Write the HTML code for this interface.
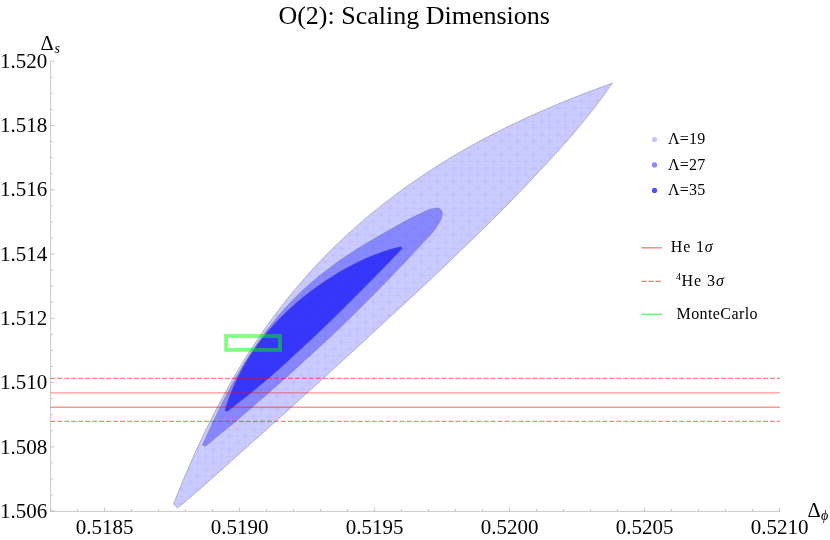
<!DOCTYPE html>
<html>
<head>
<meta charset="utf-8">
<title>O(2): Scaling Dimensions</title>
<style>
html, body { margin: 0; padding: 0; background: #ffffff; }
body { width: 830px; height: 540px; overflow: hidden; font-family: "Liberation Serif", serif; }
svg { display: block; will-change: transform; }
text { font-family: "Liberation Serif", serif; fill: #000; }
.tk { font-size: 21px; }
.lg { font-size: 16px; }
.ttl { font-size: 26px; }
.it { font-style: italic; }
</style>
</head>
<body>
<svg width="830" height="540" viewBox="0 0 830 540">
<rect x="0" y="0" width="830" height="540" fill="#ffffff"/>
<defs>
<pattern id="mesh" x="13.2" y="0.3" width="16" height="13.4" patternUnits="userSpaceOnUse">
<path d="M0 0L16 13.4M16 0L0 13.4M0 0.3H16M0 7H16M0.3 0V13.4M8.3 0V13.4" stroke="#0000ff" stroke-width="0.6" fill="none" opacity="0.065"/>
</pattern>
</defs>

<!-- title -->
<text x="414.2" y="24.2" text-anchor="middle" class="ttl">O(2): Scaling Dimensions</text>

<!-- islands -->
<path d="M173.50 504.00 C174.56 501.36 177.72 493.41 179.88 488.16 C182.04 482.91 184.22 477.69 186.44 472.50 C188.66 467.32 190.91 462.17 193.20 457.05 C195.49 451.94 197.81 446.86 200.17 441.82 C202.53 436.78 204.92 431.78 207.36 426.82 C209.79 421.85 212.26 416.93 214.77 412.05 C217.28 407.16 219.83 402.32 222.43 397.52 C225.02 392.72 227.65 387.97 230.33 383.26 C233.00 378.55 235.72 373.88 238.49 369.26 C241.25 364.64 244.06 360.06 246.92 355.54 C249.78 351.02 252.68 346.54 255.63 342.12 C258.59 337.69 261.59 333.32 264.64 328.99 C267.69 324.67 270.78 320.39 273.93 316.16 C277.07 311.94 280.26 307.76 283.50 303.63 C286.74 299.50 290.03 295.42 293.36 291.39 C296.70 287.36 300.08 283.38 303.51 279.45 C306.94 275.52 310.42 271.64 313.95 267.81 C317.48 263.99 321.06 260.21 324.69 256.49 C328.32 252.77 332.01 249.10 335.74 245.48 C339.47 241.86 343.26 238.30 347.09 234.79 C350.92 231.27 354.80 227.80 358.73 224.38 C362.65 220.96 366.62 217.59 370.63 214.27 C374.65 210.94 378.71 207.66 382.81 204.43 C386.92 201.20 391.07 198.02 395.27 194.88 C399.47 191.75 403.71 188.66 408.00 185.62 C412.29 182.58 416.62 179.58 421.00 176.63 C425.37 173.68 429.79 170.77 434.25 167.90 C438.72 165.04 443.22 162.22 447.77 159.45 C452.31 156.68 456.91 153.95 461.54 151.26 C466.17 148.58 470.85 145.94 475.57 143.35 C480.30 140.75 485.06 138.21 489.87 135.70 C494.68 133.20 499.53 130.74 504.42 128.32 C509.31 125.90 514.25 123.53 519.22 121.20 C524.19 118.86 529.20 116.57 534.25 114.31 C539.30 112.06 544.38 109.84 549.50 107.66 C554.62 105.47 559.77 103.33 564.96 101.22 C570.15 99.10 575.37 97.03 580.62 94.98 C585.87 92.94 591.16 90.93 596.47 88.95 C601.79 86.97 609.83 84.08 612.50 83.10 L612.39 82.99 C610.87 85.15 606.36 91.70 603.25 95.97 C600.14 100.23 596.97 104.43 593.75 108.58 C590.54 112.73 587.26 116.82 583.94 120.87 C580.63 124.92 577.27 128.92 573.87 132.89 C570.48 136.86 567.05 140.79 563.59 144.69 C560.13 148.59 556.64 152.46 553.13 156.31 C549.62 160.16 546.09 163.98 542.54 167.79 C539.00 171.60 535.44 175.40 531.87 179.18 C528.29 182.96 524.71 186.74 521.11 190.49 C517.51 194.24 513.89 197.98 510.25 201.70 C506.62 205.41 502.96 209.11 499.29 212.79 C495.62 216.47 491.92 220.13 488.23 223.78 C484.53 227.43 480.81 231.07 477.10 234.70 C473.38 238.34 469.65 241.96 465.92 245.58 C462.19 249.20 458.45 252.81 454.71 256.41 C450.96 260.02 447.21 263.61 443.44 267.20 C439.67 270.78 435.90 274.35 432.11 277.91 C428.32 281.47 424.52 285.02 420.72 288.56 C416.91 292.10 413.09 295.63 409.28 299.16 C405.46 302.69 401.64 306.21 397.81 309.74 C393.99 313.26 390.17 316.78 386.34 320.31 C382.52 323.83 378.70 327.36 374.88 330.88 C371.06 334.41 367.24 337.94 363.42 341.46 C359.60 344.99 355.78 348.51 351.95 352.04 C348.13 355.56 344.30 359.08 340.47 362.59 C336.64 366.11 332.80 369.62 328.96 373.12 C325.11 376.62 321.26 380.12 317.41 383.61 C313.56 387.11 309.71 390.60 305.85 394.09 C301.99 397.57 298.13 401.06 294.27 404.54 C290.41 408.03 286.54 411.51 282.67 414.98 C278.80 418.46 274.93 421.93 271.05 425.40 C267.18 428.87 263.30 432.33 259.42 435.80 C255.54 439.26 251.66 442.72 247.78 446.20 C243.91 449.67 240.04 453.14 236.17 456.62 C232.31 460.10 228.45 463.59 224.59 467.07 C220.72 470.55 216.87 474.04 212.98 477.50 C209.10 480.96 205.21 484.42 201.29 487.84 C197.37 491.26 193.43 494.66 189.46 498.04 C185.49 501.41 179.49 506.41 177.49 508.09 Z" fill="#ccccff" stroke="#9a9ab8" stroke-width="0.7"/>
<path d="M173.50 504.00 C174.56 501.36 177.72 493.41 179.88 488.16 C182.04 482.91 184.22 477.69 186.44 472.50 C188.66 467.32 190.91 462.17 193.20 457.05 C195.49 451.94 197.81 446.86 200.17 441.82 C202.53 436.78 204.92 431.78 207.36 426.82 C209.79 421.85 212.26 416.93 214.77 412.05 C217.28 407.16 219.83 402.32 222.43 397.52 C225.02 392.72 227.65 387.97 230.33 383.26 C233.00 378.55 235.72 373.88 238.49 369.26 C241.25 364.64 244.06 360.06 246.92 355.54 C249.78 351.02 252.68 346.54 255.63 342.12 C258.59 337.69 261.59 333.32 264.64 328.99 C267.69 324.67 270.78 320.39 273.93 316.16 C277.07 311.94 280.26 307.76 283.50 303.63 C286.74 299.50 290.03 295.42 293.36 291.39 C296.70 287.36 300.08 283.38 303.51 279.45 C306.94 275.52 310.42 271.64 313.95 267.81 C317.48 263.99 321.06 260.21 324.69 256.49 C328.32 252.77 332.01 249.10 335.74 245.48 C339.47 241.86 343.26 238.30 347.09 234.79 C350.92 231.27 354.80 227.80 358.73 224.38 C362.65 220.96 366.62 217.59 370.63 214.27 C374.65 210.94 378.71 207.66 382.81 204.43 C386.92 201.20 391.07 198.02 395.27 194.88 C399.47 191.75 403.71 188.66 408.00 185.62 C412.29 182.58 416.62 179.58 421.00 176.63 C425.37 173.68 429.79 170.77 434.25 167.90 C438.72 165.04 443.22 162.22 447.77 159.45 C452.31 156.68 456.91 153.95 461.54 151.26 C466.17 148.58 470.85 145.94 475.57 143.35 C480.30 140.75 485.06 138.21 489.87 135.70 C494.68 133.20 499.53 130.74 504.42 128.32 C509.31 125.90 514.25 123.53 519.22 121.20 C524.19 118.86 529.20 116.57 534.25 114.31 C539.30 112.06 544.38 109.84 549.50 107.66 C554.62 105.47 559.77 103.33 564.96 101.22 C570.15 99.10 575.37 97.03 580.62 94.98 C585.87 92.94 591.16 90.93 596.47 88.95 C601.79 86.97 609.83 84.08 612.50 83.10 L612.39 82.99 C610.87 85.15 606.36 91.70 603.25 95.97 C600.14 100.23 596.97 104.43 593.75 108.58 C590.54 112.73 587.26 116.82 583.94 120.87 C580.63 124.92 577.27 128.92 573.87 132.89 C570.48 136.86 567.05 140.79 563.59 144.69 C560.13 148.59 556.64 152.46 553.13 156.31 C549.62 160.16 546.09 163.98 542.54 167.79 C539.00 171.60 535.44 175.40 531.87 179.18 C528.29 182.96 524.71 186.74 521.11 190.49 C517.51 194.24 513.89 197.98 510.25 201.70 C506.62 205.41 502.96 209.11 499.29 212.79 C495.62 216.47 491.92 220.13 488.23 223.78 C484.53 227.43 480.81 231.07 477.10 234.70 C473.38 238.34 469.65 241.96 465.92 245.58 C462.19 249.20 458.45 252.81 454.71 256.41 C450.96 260.02 447.21 263.61 443.44 267.20 C439.67 270.78 435.90 274.35 432.11 277.91 C428.32 281.47 424.52 285.02 420.72 288.56 C416.91 292.10 413.09 295.63 409.28 299.16 C405.46 302.69 401.64 306.21 397.81 309.74 C393.99 313.26 390.17 316.78 386.34 320.31 C382.52 323.83 378.70 327.36 374.88 330.88 C371.06 334.41 367.24 337.94 363.42 341.46 C359.60 344.99 355.78 348.51 351.95 352.04 C348.13 355.56 344.30 359.08 340.47 362.59 C336.64 366.11 332.80 369.62 328.96 373.12 C325.11 376.62 321.26 380.12 317.41 383.61 C313.56 387.11 309.71 390.60 305.85 394.09 C301.99 397.57 298.13 401.06 294.27 404.54 C290.41 408.03 286.54 411.51 282.67 414.98 C278.80 418.46 274.93 421.93 271.05 425.40 C267.18 428.87 263.30 432.33 259.42 435.80 C255.54 439.26 251.66 442.72 247.78 446.20 C243.91 449.67 240.04 453.14 236.17 456.62 C232.31 460.10 228.45 463.59 224.59 467.07 C220.72 470.55 216.87 474.04 212.98 477.50 C209.10 480.96 205.21 484.42 201.29 487.84 C197.37 491.26 193.43 494.66 189.46 498.04 C185.49 501.41 179.49 506.41 177.49 508.09 Z" fill="url(#mesh)" stroke="none"/>
<path d="M202.50 445.10 C203.10 443.77 204.89 439.79 206.10 437.14 C207.30 434.49 208.51 431.85 209.73 429.22 C210.95 426.59 212.18 423.96 213.42 421.35 C214.65 418.73 215.90 416.13 217.16 413.53 C218.42 410.94 219.68 408.36 220.97 405.79 C222.25 403.22 223.54 400.66 224.85 398.12 C226.15 395.58 227.47 393.05 228.81 390.54 C230.15 388.03 231.50 385.53 232.86 383.05 C234.23 380.57 235.61 378.11 237.01 375.66 C238.42 373.22 239.83 370.79 241.27 368.38 C242.70 365.97 244.16 363.58 245.63 361.21 C247.10 358.84 248.59 356.49 250.10 354.16 C251.61 351.82 253.15 349.51 254.70 347.23 C256.25 344.94 257.82 342.67 259.41 340.42 C261.01 338.18 262.62 335.95 264.25 333.75 C265.89 331.55 267.55 329.37 269.23 327.21 C270.91 325.05 272.61 322.92 274.33 320.81 C276.05 318.70 277.80 316.61 279.57 314.55 C281.34 312.48 283.13 310.44 284.94 308.42 C286.76 306.41 288.59 304.41 290.46 302.45 C292.32 300.48 294.21 298.54 296.13 296.63 C298.04 294.72 299.99 292.84 301.96 290.99 C303.93 289.14 305.94 287.32 307.96 285.52 C309.99 283.72 312.05 281.96 314.12 280.21 C316.20 278.46 318.30 276.75 320.42 275.05 C322.55 273.35 324.69 271.68 326.86 270.02 C329.02 268.37 331.21 266.74 333.42 265.13 C335.63 263.52 337.86 261.94 340.10 260.37 C342.35 258.80 344.62 257.25 346.90 255.72 C349.19 254.19 351.49 252.68 353.81 251.19 C356.13 249.69 358.47 248.22 360.82 246.76 C363.17 245.30 365.55 243.86 367.93 242.44 C370.32 241.01 372.72 239.61 375.13 238.21 C377.54 236.81 379.97 235.42 382.39 234.04 C384.82 232.66 387.25 231.28 389.69 229.91 C392.13 228.54 394.57 227.17 397.02 225.81 C399.47 224.45 401.92 223.10 404.39 221.76 C406.86 220.42 407.87 219.76 411.84 217.78 C415.80 215.81 424.51 211.41 428.20 209.90 C431.89 208.39 432.40 208.97 434.00 208.70 C435.60 208.43 436.68 208.17 437.80 208.30 C438.92 208.43 439.97 208.75 440.70 209.50 C441.43 210.25 442.03 211.52 442.20 212.80 C442.37 214.08 442.10 215.75 441.70 217.20 C441.30 218.65 440.77 219.73 439.80 221.50 C438.83 223.27 437.20 225.87 435.90 227.80 C434.60 229.73 434.23 230.52 432.00 233.10 C429.77 235.68 424.98 240.61 422.51 243.26 C420.04 245.91 418.96 247.09 417.18 249.00 C415.40 250.91 413.62 252.81 411.83 254.71 C410.05 256.62 408.26 258.52 406.47 260.41 C404.68 262.31 402.89 264.21 401.10 266.10 C399.30 268.00 397.51 269.89 395.71 271.78 C393.91 273.67 392.11 275.56 390.31 277.44 C388.50 279.32 386.69 281.20 384.88 283.07 C383.06 284.94 381.24 286.81 379.42 288.67 C377.59 290.53 375.76 292.39 373.92 294.24 C372.09 296.09 370.25 297.93 368.40 299.78 C366.56 301.62 364.71 303.46 362.86 305.29 C361.02 307.13 359.16 308.97 357.31 310.80 C355.46 312.63 353.60 314.46 351.74 316.29 C349.88 318.11 348.02 319.93 346.15 321.75 C344.28 323.56 342.40 325.37 340.52 327.18 C338.64 328.98 336.75 330.78 334.86 332.57 C332.97 334.36 331.07 336.14 329.16 337.92 C327.26 339.70 325.35 341.47 323.43 343.24 C321.52 345.01 319.60 346.77 317.68 348.54 C315.76 350.30 313.83 352.06 311.91 353.82 C309.99 355.58 308.07 357.34 306.15 359.11 C304.23 360.87 302.31 362.63 300.38 364.39 C298.46 366.15 296.54 367.91 294.61 369.66 C292.68 371.42 290.75 373.17 288.81 374.92 C286.88 376.66 284.94 378.41 282.99 380.15 C281.05 381.89 279.10 383.62 277.15 385.35 C275.20 387.08 273.24 388.81 271.28 390.53 C269.32 392.25 267.36 393.97 265.39 395.68 C263.42 397.39 261.45 399.10 259.48 400.81 C257.51 402.52 255.53 404.23 253.56 405.94 C251.58 407.64 249.61 409.35 247.63 411.05 C245.66 412.76 243.68 414.46 241.70 416.16 C239.71 417.86 237.73 419.55 235.73 421.23 C233.73 422.92 231.72 424.59 229.71 426.25 C227.69 427.92 225.66 429.57 223.63 431.22 C221.61 432.87 219.57 434.51 217.54 436.17 C215.52 437.82 213.49 439.47 211.48 441.14 C209.47 442.81 206.48 445.35 205.48 446.19 Z" fill="#8989fd" stroke="#7a7ac0" stroke-width="0.6"/>
<path d="M202.50 445.10 C203.10 443.77 204.89 439.79 206.10 437.14 C207.30 434.49 208.51 431.85 209.73 429.22 C210.95 426.59 212.18 423.96 213.42 421.35 C214.65 418.73 215.90 416.13 217.16 413.53 C218.42 410.94 219.68 408.36 220.97 405.79 C222.25 403.22 223.54 400.66 224.85 398.12 C226.15 395.58 227.47 393.05 228.81 390.54 C230.15 388.03 231.50 385.53 232.86 383.05 C234.23 380.57 235.61 378.11 237.01 375.66 C238.42 373.22 239.83 370.79 241.27 368.38 C242.70 365.97 244.16 363.58 245.63 361.21 C247.10 358.84 248.59 356.49 250.10 354.16 C251.61 351.82 253.15 349.51 254.70 347.23 C256.25 344.94 257.82 342.67 259.41 340.42 C261.01 338.18 262.62 335.95 264.25 333.75 C265.89 331.55 267.55 329.37 269.23 327.21 C270.91 325.05 272.61 322.92 274.33 320.81 C276.05 318.70 277.80 316.61 279.57 314.55 C281.34 312.48 283.13 310.44 284.94 308.42 C286.76 306.41 288.59 304.41 290.46 302.45 C292.32 300.48 294.21 298.54 296.13 296.63 C298.04 294.72 299.99 292.84 301.96 290.99 C303.93 289.14 305.94 287.32 307.96 285.52 C309.99 283.72 312.05 281.96 314.12 280.21 C316.20 278.46 318.30 276.75 320.42 275.05 C322.55 273.35 324.69 271.68 326.86 270.02 C329.02 268.37 331.21 266.74 333.42 265.13 C335.63 263.52 337.86 261.94 340.10 260.37 C342.35 258.80 344.62 257.25 346.90 255.72 C349.19 254.19 351.49 252.68 353.81 251.19 C356.13 249.69 358.47 248.22 360.82 246.76 C363.17 245.30 365.55 243.86 367.93 242.44 C370.32 241.01 372.72 239.61 375.13 238.21 C377.54 236.81 379.97 235.42 382.39 234.04 C384.82 232.66 387.25 231.28 389.69 229.91 C392.13 228.54 394.57 227.17 397.02 225.81 C399.47 224.45 401.92 223.10 404.39 221.76 C406.86 220.42 407.87 219.76 411.84 217.78 C415.80 215.81 424.51 211.41 428.20 209.90 C431.89 208.39 432.40 208.97 434.00 208.70 C435.60 208.43 436.68 208.17 437.80 208.30 C438.92 208.43 439.97 208.75 440.70 209.50 C441.43 210.25 442.03 211.52 442.20 212.80 C442.37 214.08 442.10 215.75 441.70 217.20 C441.30 218.65 440.77 219.73 439.80 221.50 C438.83 223.27 437.20 225.87 435.90 227.80 C434.60 229.73 434.23 230.52 432.00 233.10 C429.77 235.68 424.98 240.61 422.51 243.26 C420.04 245.91 418.96 247.09 417.18 249.00 C415.40 250.91 413.62 252.81 411.83 254.71 C410.05 256.62 408.26 258.52 406.47 260.41 C404.68 262.31 402.89 264.21 401.10 266.10 C399.30 268.00 397.51 269.89 395.71 271.78 C393.91 273.67 392.11 275.56 390.31 277.44 C388.50 279.32 386.69 281.20 384.88 283.07 C383.06 284.94 381.24 286.81 379.42 288.67 C377.59 290.53 375.76 292.39 373.92 294.24 C372.09 296.09 370.25 297.93 368.40 299.78 C366.56 301.62 364.71 303.46 362.86 305.29 C361.02 307.13 359.16 308.97 357.31 310.80 C355.46 312.63 353.60 314.46 351.74 316.29 C349.88 318.11 348.02 319.93 346.15 321.75 C344.28 323.56 342.40 325.37 340.52 327.18 C338.64 328.98 336.75 330.78 334.86 332.57 C332.97 334.36 331.07 336.14 329.16 337.92 C327.26 339.70 325.35 341.47 323.43 343.24 C321.52 345.01 319.60 346.77 317.68 348.54 C315.76 350.30 313.83 352.06 311.91 353.82 C309.99 355.58 308.07 357.34 306.15 359.11 C304.23 360.87 302.31 362.63 300.38 364.39 C298.46 366.15 296.54 367.91 294.61 369.66 C292.68 371.42 290.75 373.17 288.81 374.92 C286.88 376.66 284.94 378.41 282.99 380.15 C281.05 381.89 279.10 383.62 277.15 385.35 C275.20 387.08 273.24 388.81 271.28 390.53 C269.32 392.25 267.36 393.97 265.39 395.68 C263.42 397.39 261.45 399.10 259.48 400.81 C257.51 402.52 255.53 404.23 253.56 405.94 C251.58 407.64 249.61 409.35 247.63 411.05 C245.66 412.76 243.68 414.46 241.70 416.16 C239.71 417.86 237.73 419.55 235.73 421.23 C233.73 422.92 231.72 424.59 229.71 426.25 C227.69 427.92 225.66 429.57 223.63 431.22 C221.61 432.87 219.57 434.51 217.54 436.17 C215.52 437.82 213.49 439.47 211.48 441.14 C209.47 442.81 206.48 445.35 205.48 446.19 Z" fill="url(#mesh)" stroke="none"/>
<path d="M224.90 410.40 C225.25 409.29 226.28 405.93 227.02 403.74 C227.75 401.55 228.52 399.39 229.31 397.26 C230.11 395.12 230.93 393.02 231.78 390.95 C232.63 388.87 233.50 386.83 234.40 384.81 C235.30 382.79 236.23 380.80 237.18 378.83 C238.13 376.86 239.10 374.92 240.10 373.00 C241.10 371.08 242.12 369.18 243.16 367.31 C244.21 365.44 245.27 363.59 246.36 361.76 C247.44 359.93 248.55 358.13 249.68 356.35 C250.81 354.56 251.96 352.80 253.13 351.06 C254.30 349.32 255.49 347.60 256.71 345.91 C257.92 344.21 259.16 342.54 260.41 340.88 C261.67 339.23 262.95 337.60 264.24 335.99 C265.54 334.38 266.86 332.80 268.19 331.23 C269.53 329.66 270.88 328.11 272.25 326.57 C273.62 325.04 275.01 323.53 276.42 322.03 C277.82 320.53 279.24 319.05 280.68 317.59 C282.12 316.12 283.57 314.68 285.05 313.25 C286.52 311.82 288.00 310.41 289.51 309.01 C291.01 307.62 292.53 306.24 294.07 304.88 C295.60 303.52 297.16 302.17 298.73 300.84 C300.30 299.52 301.88 298.21 303.49 296.92 C305.09 295.63 306.72 294.35 308.36 293.10 C310.00 291.85 311.66 290.61 313.33 289.39 C315.00 288.17 316.69 286.97 318.39 285.77 C320.08 284.58 321.79 283.39 323.51 282.22 C325.23 281.05 326.97 279.89 328.71 278.75 C330.46 277.61 332.23 276.48 334.01 275.38 C335.79 274.27 337.59 273.18 339.41 272.11 C341.23 271.04 343.06 269.99 344.92 268.96 C346.77 267.93 348.64 266.91 350.53 265.92 C352.42 264.92 354.33 263.94 356.26 262.99 C358.19 262.03 360.13 261.10 362.11 260.19 C364.08 259.28 366.07 258.39 368.09 257.52 C370.11 256.66 372.15 255.82 374.22 255.01 C376.28 254.20 378.38 253.42 380.50 252.67 C382.63 251.91 384.78 251.19 386.97 250.51 C389.16 249.82 391.38 249.17 393.64 248.55 C395.89 247.93 399.36 247.10 400.51 246.81 L402.30 248.30 C401.60 249.04 399.48 251.27 398.07 252.76 C396.66 254.24 395.25 255.72 393.84 257.20 C392.42 258.68 391.00 260.16 389.58 261.63 C388.16 263.11 386.74 264.58 385.31 266.04 C383.88 267.51 382.45 268.97 381.02 270.43 C379.59 271.90 378.15 273.35 376.72 274.81 C375.28 276.27 373.85 277.73 372.41 279.19 C370.97 280.64 369.53 282.10 368.10 283.55 C366.66 285.01 365.22 286.46 363.77 287.91 C362.33 289.36 360.89 290.81 359.45 292.26 C358.00 293.71 356.56 295.16 355.11 296.61 C353.66 298.05 352.22 299.50 350.77 300.94 C349.32 302.39 347.87 303.83 346.42 305.28 C344.97 306.72 343.52 308.16 342.07 309.60 C340.61 311.04 339.16 312.48 337.70 313.92 C336.24 315.35 334.78 316.78 333.32 318.21 C331.86 319.64 330.39 321.07 328.92 322.49 C327.45 323.92 325.98 325.34 324.51 326.75 C323.03 328.17 321.55 329.58 320.07 330.99 C318.59 332.40 317.10 333.81 315.61 335.21 C314.12 336.61 312.63 338.01 311.13 339.41 C309.64 340.80 308.14 342.19 306.64 343.59 C305.14 344.98 303.63 346.37 302.13 347.76 C300.63 349.15 299.13 350.54 297.63 351.93 C296.13 353.32 294.64 354.72 293.14 356.11 C291.63 357.50 290.13 358.89 288.63 360.27 C287.12 361.65 285.61 363.04 284.09 364.41 C282.58 365.79 281.06 367.16 279.53 368.52 C278.00 369.88 276.47 371.24 274.93 372.59 C273.40 373.95 271.85 375.29 270.30 376.63 C268.75 377.97 267.20 379.31 265.64 380.63 C264.07 381.96 262.51 383.28 260.93 384.60 C259.36 385.91 257.78 387.22 256.19 388.52 C254.60 389.82 253.01 391.12 251.41 392.41 C249.82 393.70 248.21 394.98 246.61 396.26 C245.00 397.55 243.39 398.83 241.78 400.10 C240.16 401.37 238.55 402.64 236.92 403.90 C235.29 405.16 233.66 406.41 232.01 407.65 C230.36 408.89 227.86 410.71 227.03 411.33 Z" fill="#3737fa" stroke="#4a4ad0" stroke-width="0.6"/>
<path d="M224.90 410.40 C225.25 409.29 226.28 405.93 227.02 403.74 C227.75 401.55 228.52 399.39 229.31 397.26 C230.11 395.12 230.93 393.02 231.78 390.95 C232.63 388.87 233.50 386.83 234.40 384.81 C235.30 382.79 236.23 380.80 237.18 378.83 C238.13 376.86 239.10 374.92 240.10 373.00 C241.10 371.08 242.12 369.18 243.16 367.31 C244.21 365.44 245.27 363.59 246.36 361.76 C247.44 359.93 248.55 358.13 249.68 356.35 C250.81 354.56 251.96 352.80 253.13 351.06 C254.30 349.32 255.49 347.60 256.71 345.91 C257.92 344.21 259.16 342.54 260.41 340.88 C261.67 339.23 262.95 337.60 264.24 335.99 C265.54 334.38 266.86 332.80 268.19 331.23 C269.53 329.66 270.88 328.11 272.25 326.57 C273.62 325.04 275.01 323.53 276.42 322.03 C277.82 320.53 279.24 319.05 280.68 317.59 C282.12 316.12 283.57 314.68 285.05 313.25 C286.52 311.82 288.00 310.41 289.51 309.01 C291.01 307.62 292.53 306.24 294.07 304.88 C295.60 303.52 297.16 302.17 298.73 300.84 C300.30 299.52 301.88 298.21 303.49 296.92 C305.09 295.63 306.72 294.35 308.36 293.10 C310.00 291.85 311.66 290.61 313.33 289.39 C315.00 288.17 316.69 286.97 318.39 285.77 C320.08 284.58 321.79 283.39 323.51 282.22 C325.23 281.05 326.97 279.89 328.71 278.75 C330.46 277.61 332.23 276.48 334.01 275.38 C335.79 274.27 337.59 273.18 339.41 272.11 C341.23 271.04 343.06 269.99 344.92 268.96 C346.77 267.93 348.64 266.91 350.53 265.92 C352.42 264.92 354.33 263.94 356.26 262.99 C358.19 262.03 360.13 261.10 362.11 260.19 C364.08 259.28 366.07 258.39 368.09 257.52 C370.11 256.66 372.15 255.82 374.22 255.01 C376.28 254.20 378.38 253.42 380.50 252.67 C382.63 251.91 384.78 251.19 386.97 250.51 C389.16 249.82 391.38 249.17 393.64 248.55 C395.89 247.93 399.36 247.10 400.51 246.81 L402.30 248.30 C401.60 249.04 399.48 251.27 398.07 252.76 C396.66 254.24 395.25 255.72 393.84 257.20 C392.42 258.68 391.00 260.16 389.58 261.63 C388.16 263.11 386.74 264.58 385.31 266.04 C383.88 267.51 382.45 268.97 381.02 270.43 C379.59 271.90 378.15 273.35 376.72 274.81 C375.28 276.27 373.85 277.73 372.41 279.19 C370.97 280.64 369.53 282.10 368.10 283.55 C366.66 285.01 365.22 286.46 363.77 287.91 C362.33 289.36 360.89 290.81 359.45 292.26 C358.00 293.71 356.56 295.16 355.11 296.61 C353.66 298.05 352.22 299.50 350.77 300.94 C349.32 302.39 347.87 303.83 346.42 305.28 C344.97 306.72 343.52 308.16 342.07 309.60 C340.61 311.04 339.16 312.48 337.70 313.92 C336.24 315.35 334.78 316.78 333.32 318.21 C331.86 319.64 330.39 321.07 328.92 322.49 C327.45 323.92 325.98 325.34 324.51 326.75 C323.03 328.17 321.55 329.58 320.07 330.99 C318.59 332.40 317.10 333.81 315.61 335.21 C314.12 336.61 312.63 338.01 311.13 339.41 C309.64 340.80 308.14 342.19 306.64 343.59 C305.14 344.98 303.63 346.37 302.13 347.76 C300.63 349.15 299.13 350.54 297.63 351.93 C296.13 353.32 294.64 354.72 293.14 356.11 C291.63 357.50 290.13 358.89 288.63 360.27 C287.12 361.65 285.61 363.04 284.09 364.41 C282.58 365.79 281.06 367.16 279.53 368.52 C278.00 369.88 276.47 371.24 274.93 372.59 C273.40 373.95 271.85 375.29 270.30 376.63 C268.75 377.97 267.20 379.31 265.64 380.63 C264.07 381.96 262.51 383.28 260.93 384.60 C259.36 385.91 257.78 387.22 256.19 388.52 C254.60 389.82 253.01 391.12 251.41 392.41 C249.82 393.70 248.21 394.98 246.61 396.26 C245.00 397.55 243.39 398.83 241.78 400.10 C240.16 401.37 238.55 402.64 236.92 403.90 C235.29 405.16 233.66 406.41 232.01 407.65 C230.36 408.89 227.86 410.71 227.03 411.33 Z" fill="url(#mesh)" stroke="none"/>

<!-- helium lines -->
<line x1="50.30" y1="378.38" x2="780.00" y2="378.38" stroke="#ff0000" stroke-opacity="0.5" stroke-width="1.15" stroke-dasharray="4.9 2.088"/>
<line x1="50.30" y1="392.84" x2="780.00" y2="392.84" stroke="#ff0000" stroke-opacity="0.42" stroke-width="1.4"/>
<line x1="50.30" y1="407.30" x2="780.00" y2="407.30" stroke="#ff0000" stroke-opacity="0.42" stroke-width="1.4"/>
<line x1="50.30" y1="421.44" x2="780.00" y2="421.44" stroke="#ff0000" stroke-opacity="0.5" stroke-width="1.15" stroke-dasharray="4.9 2.088"/>

<!-- Monte Carlo box -->
<rect x="226.1" y="336" width="53.9" height="13.9" fill="none" stroke="rgb(0,255,0)" stroke-opacity="0.5" stroke-width="3.8"/>

<!-- axes -->
<g stroke="#9c9c9c" stroke-width="0.55" fill="none">
<line x1="50.60" y1="61.2" x2="50.60" y2="511.40"/>
<line x1="50.60" y1="511.40" x2="780" y2="511.40"/>
<line x1="50.50" y1="511.40" x2="50.50" y2="509.00"/>
<line x1="77.50" y1="511.40" x2="77.50" y2="509.00"/>
<line x1="104.50" y1="511.40" x2="104.50" y2="507.40"/>
<line x1="131.50" y1="511.40" x2="131.50" y2="509.00"/>
<line x1="158.50" y1="511.40" x2="158.50" y2="509.00"/>
<line x1="185.50" y1="511.40" x2="185.50" y2="509.00"/>
<line x1="212.50" y1="511.40" x2="212.50" y2="509.00"/>
<line x1="239.50" y1="511.40" x2="239.50" y2="507.40"/>
<line x1="266.50" y1="511.40" x2="266.50" y2="509.00"/>
<line x1="293.50" y1="511.40" x2="293.50" y2="509.00"/>
<line x1="320.50" y1="511.40" x2="320.50" y2="509.00"/>
<line x1="347.50" y1="511.40" x2="347.50" y2="509.00"/>
<line x1="374.50" y1="511.40" x2="374.50" y2="507.40"/>
<line x1="401.50" y1="511.40" x2="401.50" y2="509.00"/>
<line x1="428.50" y1="511.40" x2="428.50" y2="509.00"/>
<line x1="455.50" y1="511.40" x2="455.50" y2="509.00"/>
<line x1="482.50" y1="511.40" x2="482.50" y2="509.00"/>
<line x1="509.50" y1="511.40" x2="509.50" y2="507.40"/>
<line x1="536.50" y1="511.40" x2="536.50" y2="509.00"/>
<line x1="563.50" y1="511.40" x2="563.50" y2="509.00"/>
<line x1="590.50" y1="511.40" x2="590.50" y2="509.00"/>
<line x1="617.50" y1="511.40" x2="617.50" y2="509.00"/>
<line x1="644.50" y1="511.40" x2="644.50" y2="507.40"/>
<line x1="671.50" y1="511.40" x2="671.50" y2="509.00"/>
<line x1="698.50" y1="511.40" x2="698.50" y2="509.00"/>
<line x1="725.50" y1="511.40" x2="725.50" y2="509.00"/>
<line x1="752.50" y1="511.40" x2="752.50" y2="509.00"/>
<line x1="779.50" y1="511.40" x2="779.50" y2="507.40"/>
<line x1="50.60" y1="511.10" x2="54.60" y2="511.10"/>
<line x1="50.60" y1="495.03" x2="53.00" y2="495.03"/>
<line x1="50.60" y1="478.97" x2="53.00" y2="478.97"/>
<line x1="50.60" y1="462.90" x2="53.00" y2="462.90"/>
<line x1="50.60" y1="446.83" x2="54.60" y2="446.83"/>
<line x1="50.60" y1="430.76" x2="53.00" y2="430.76"/>
<line x1="50.60" y1="414.70" x2="53.00" y2="414.70"/>
<line x1="50.60" y1="398.63" x2="53.00" y2="398.63"/>
<line x1="50.60" y1="382.56" x2="54.60" y2="382.56"/>
<line x1="50.60" y1="366.49" x2="53.00" y2="366.49"/>
<line x1="50.60" y1="350.43" x2="53.00" y2="350.43"/>
<line x1="50.60" y1="334.36" x2="53.00" y2="334.36"/>
<line x1="50.60" y1="318.29" x2="54.60" y2="318.29"/>
<line x1="50.60" y1="302.22" x2="53.00" y2="302.22"/>
<line x1="50.60" y1="286.16" x2="53.00" y2="286.16"/>
<line x1="50.60" y1="270.09" x2="53.00" y2="270.09"/>
<line x1="50.60" y1="254.02" x2="54.60" y2="254.02"/>
<line x1="50.60" y1="237.95" x2="53.00" y2="237.95"/>
<line x1="50.60" y1="221.89" x2="53.00" y2="221.89"/>
<line x1="50.60" y1="205.82" x2="53.00" y2="205.82"/>
<line x1="50.60" y1="189.75" x2="54.60" y2="189.75"/>
<line x1="50.60" y1="173.68" x2="53.00" y2="173.68"/>
<line x1="50.60" y1="157.62" x2="53.00" y2="157.62"/>
<line x1="50.60" y1="141.55" x2="53.00" y2="141.55"/>
<line x1="50.60" y1="125.48" x2="54.60" y2="125.48"/>
<line x1="50.60" y1="109.41" x2="53.00" y2="109.41"/>
<line x1="50.60" y1="93.35" x2="53.00" y2="93.35"/>
<line x1="50.60" y1="77.28" x2="53.00" y2="77.28"/>
<line x1="50.60" y1="61.21" x2="54.60" y2="61.21"/>
</g>
<text x="104.50" y="533.6" text-anchor="middle" class="tk">0.5185</text>
<text x="239.50" y="533.6" text-anchor="middle" class="tk">0.5190</text>
<text x="374.50" y="533.6" text-anchor="middle" class="tk">0.5195</text>
<text x="509.50" y="533.6" text-anchor="middle" class="tk">0.5200</text>
<text x="644.50" y="533.6" text-anchor="middle" class="tk">0.5205</text>
<text x="779.50" y="533.6" text-anchor="middle" class="tk">0.5210</text>
<text x="47.2" y="517.80" text-anchor="end" class="tk">1.506</text>
<text x="47.2" y="453.53" text-anchor="end" class="tk">1.508</text>
<text x="47.2" y="389.26" text-anchor="end" class="tk">1.510</text>
<text x="47.2" y="324.99" text-anchor="end" class="tk">1.512</text>
<text x="47.2" y="260.72" text-anchor="end" class="tk">1.514</text>
<text x="47.2" y="196.45" text-anchor="end" class="tk">1.516</text>
<text x="47.2" y="132.18" text-anchor="end" class="tk">1.518</text>
<text x="47.2" y="67.91" text-anchor="end" class="tk">1.520</text>

<!-- axis labels -->
<text x="40.6" y="49.6" style="font-size:20.5px">&#916;</text>
<text x="54.6" y="52.8" class="it" style="font-size:14px">s</text>
<text x="807.5" y="516.6" style="font-size:20.5px">&#916;</text>
<text x="821" y="520" class="it" style="font-size:14px">&#981;</text>

<!-- legend 1 -->
<circle cx="654.5" cy="139.5" r="2.6" fill="#c5c5fb"/>
<circle cx="654.5" cy="164.9" r="2.6" fill="#8c8cf9"/>
<circle cx="654.5" cy="190.4" r="2.6" fill="#5252f5"/>
<text x="668" y="144.3" class="lg" textLength="37.2" lengthAdjust="spacing">&#923;=19</text>
<text x="668" y="169.7" class="lg" textLength="37.2" lengthAdjust="spacing">&#923;=27</text>
<text x="668" y="195.2" class="lg" textLength="37.2" lengthAdjust="spacing">&#923;=35</text>

<!-- legend 2 -->
<line x1="641.6" y1="247.8" x2="662" y2="247.8" stroke="#ff7f7f" stroke-width="1.4"/>
<text x="670.8" y="252.3" class="lg" textLength="41.8" lengthAdjust="spacing">He 1<tspan class="it">&#963;</tspan></text>
<line x1="641.5" y1="281.3" x2="660.9" y2="281.3" stroke="#ff0000" stroke-opacity="0.55" stroke-width="1.2" stroke-dasharray="5.3 1.65"/>
<text x="676" y="280" style="font-size:10px">4</text>
<text x="681.4" y="285.7" class="lg" textLength="42.4" lengthAdjust="spacing">He 3<tspan class="it">&#963;</tspan></text>
<line x1="641.6" y1="314.3" x2="662" y2="314.3" stroke="#73f073" stroke-width="1.4"/>
<text x="676.5" y="319.2" class="lg" textLength="81" lengthAdjust="spacing">MonteCarlo</text>
</svg>
</body>
</html>
